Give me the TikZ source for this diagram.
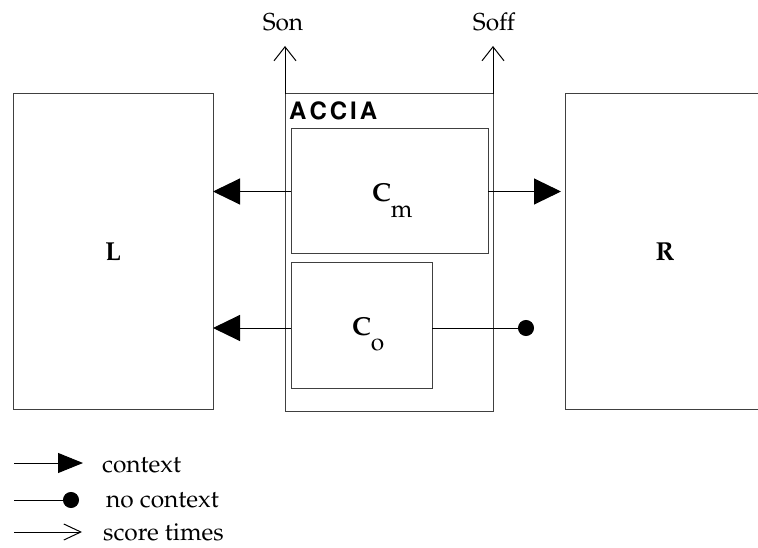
\documentclass[tikz,border=0pt]{standalone}
\usepackage[T1]{fontenc}
\usepackage{mathpazo}
\usetikzlibrary{arrows.meta}
\begin{document}
\begin{tikzpicture}[x=1pt,y=-1pt,
  box/.style={draw=black!75, line width=1pt, inner sep=0pt, outer sep=0pt},
  lbl/.style={font=\fontsize{24.5}{29}\selectfont, inner sep=0pt},
  blbl/.style={font=\fontsize{26}{30}\selectfont\bfseries},
  ctx/.style={-{Triangle[length=27pt,width=26pt]}, line width=1pt},
  ctxleg/.style={-{Triangle[length=25pt,width=20pt]}, line width=1pt},
  noctx/.style={-{Circle[length=16pt]}, line width=1pt},
  score/.style={-{Straight Barb[length=14pt,width=22pt]}, line width=1pt},
  scoreleg/.style={-{Straight Barb[length=17pt,width=16pt]}, line width=1pt},
]
\useasboundingbox (0,0) rectangle (758,548);
\begin{scope}
\clip (0,0) rectangle (758,548);
% side boxes
\node[box, minimum width=200pt, minimum height=315pt, blbl] (L) at (113,251.5) {L};
\node[box, minimum width=200pt, minimum height=315pt, blbl] (R) at (665,251.5) {R};
% ACCIA
\node[box, minimum width=208pt, minimum height=317pt] (A) at (389,252.5) {};
\node[anchor=base west, inner sep=0pt, font=\fontsize{24}{28}\fontfamily{phv}\bfseries\selectfont] (Alab) at (289,120) {A\kern3pt C\kern3pt C\kern3pt I\kern3pt A};
\node[box, minimum width=197pt, minimum height=125pt] (Cm) at (389.5,191.5) {};
\node[anchor=base west, inner sep=0pt] (Cml) at (372,202) {{\fontsize{26}{30}\selectfont\bfseries C}\raisebox{-16pt}{\fontsize{24.5}{29}\selectfont m}};
\node[box, minimum width=141pt, minimum height=125pt] (Co) at (361.5,325.5) {};
\node[anchor=base west, inner sep=0pt] (Col) at (352,335) {{\fontsize{26}{30}\selectfont\bfseries C}\raisebox{-15pt}{\fontsize{24.5}{29}\selectfont o}};
% connectors
\draw[ctx] (Cm.west) -- (Cm.west -| L.east);
\draw[ctx, shorten >=4pt] (Cm.east) -- (Cm.east -| R.west);
\draw[ctx] ([yshift=-2.5pt]Co.west) -- ([yshift=-2.5pt]Co.west -| L.east);
\coordinate (dot) at (534,328);
\draw[noctx] ([yshift=-2.5pt]Co.east) -- (dot);
% score times
\coordinate (sonTip) at (285,46);
\draw[score] (A.north west) -- (sonTip);
\node[lbl, anchor=base] (son) at (283,31) {Son};
\coordinate (soffTip) at (493,46);
\draw[score] (A.north east) -- (soffTip);
\node[lbl, anchor=base] (soff) at (494,31) {Soff};
% legend
\coordinate (l1a) at (14,463); \coordinate (l1b) at (83,463);
\draw[ctxleg] (l1a) -- (l1b);
\node[lbl, anchor=base west] (t1) at (102,472) {context};
\coordinate (l2a) at (14,500); \coordinate (l2b) at (79,500);
\draw[noctx] (l2a) -- (l2b);
\node[lbl, anchor=base west] (t2) at (106,507) {no context};
\coordinate (l3a) at (14,532); \coordinate (l3b) at (82,532);
\draw[scoreleg] (l3a) -- (l3b);
\node[lbl, anchor=base west] (t3) at (103,540) {score times};
\end{scope}
\end{tikzpicture}
\end{document}
